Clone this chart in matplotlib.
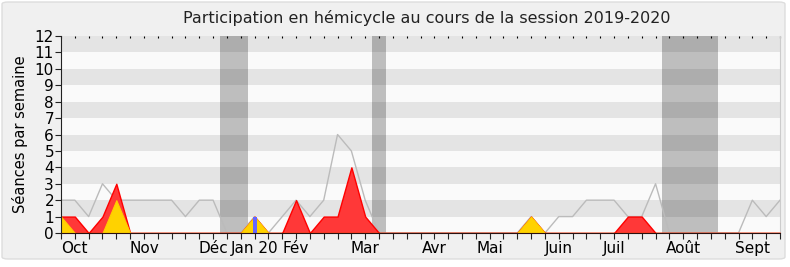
import numpy as np
import matplotlib
matplotlib.use("Agg")
import matplotlib.pyplot as plt
from matplotlib.patches import FancyBboxPatch

# weekly values, session 2019-2020 (53 weeks)
weeks = np.arange(53)
presences = [1, 1, 0, 1, 3, 0, 0, 0, 0, 0, 0, 0, 0, 0, 1, 0, 0, 2, 0, 1, 1, 4, 1, 0,
             0, 0, 0, 0, 0, 0, 0, 0, 0, 0, 1, 0, 0, 0, 0, 0, 0, 1, 1, 0,
             0, 0, 0, 0, 0, 0, 0, 0, 0]
interventions = [1, 0, 0, 0, 2, 0, 0, 0, 0, 0, 0, 0, 0, 0, 1, 0, 0, 0, 0, 0, 0, 0, 0, 0,
                 0, 0, 0, 0, 0, 0, 0, 0, 0, 0, 1, 0, 0, 0, 0, 0, 0, 0, 0, 0,
                 0, 0, 0, 0, 0, 0, 0, 0, 0]
questions_week = [14]
questions = [1]
mediane = [2, 2, 1, 3, 2, 2, 2, 2, 2, 1, 2, 2, 0, 0, 1, 0, 1, 2, 1, 2, 6, 5, 2, 0,
           0, 0, 0, 0, 0, 0, 0, 0, 0, 0, 1, 0, 1, 1, 2, 2, 2, 1, 1, 3,
           0, 0, 0, 0, 0, 0, 2, 1, 2]
vacances = [(11.5, 13.5), (22.5, 23.5), (43.5, 47.5)]
mois_pos = [1, 6, 11, 14, 17, 22, 27, 31, 36, 40, 45, 50]
mois = ['Oct', 'Nov', 'Déc', 'Jan 20', 'Fév', 'Mar', 'Avr', 'Mai', 'Juin', 'Juil', 'Août', 'Sept']

fig = plt.figure(figsize=(7.9, 2.67), dpi=100, facecolor='white')
fig.patches.append(FancyBboxPatch((2 / 790, 8 / 267), 783 / 790, 257 / 267,
                                  boxstyle="round,pad=0,rounding_size=0.008",
                                  transform=fig.transFigure, facecolor='#f0f0f0',
                                  edgecolor='#dddddd', linewidth=1, zorder=-10))
ax = fig.add_axes([61 / 790, 1 - 233 / 267, 719 / 790, 197 / 267])
ax.set_facecolor('#fafafa')

# alternating bands
for y in range(1, 12, 2):
    ax.axhspan(y, y + 1, color='#e4e4e4', lw=0, zorder=0)
for a, b in vacances:
    ax.axvspan(a, b, color='black', alpha=0.24, lw=0, zorder=1)

ax.plot(weeks, mediane, color='#bbbbbb', lw=1, zorder=2)
ax.fill_between(weeks, presences, color='#ff3838', edgecolor='#ff0000', lw=1, zorder=3)
ax.fill_between(weeks, interventions, color='#ffd200', edgecolor='#ffcc00', lw=0.8, zorder=4)
ax.bar(questions_week, questions, width=0.3, color='#6666ff', lw=0, zorder=5)

ax.set_xlim(0, 52)
ax.set_ylim(0, 12)
ax.set_yticks(range(13))
ax.set_xticks(weeks)
labels = [''] * len(weeks)
for p, m in zip(mois_pos, mois):
    labels[p] = m
ax.set_xticklabels(labels)
ax.tick_params(axis='both', labelsize=11, length=4, color='#222222', pad=1)
ax.tick_params(axis='x', pad=2)

top = ax.secondary_xaxis('top')
top.set_xticks(weeks)
top.set_xticklabels([])
top.tick_params(length=1.5, direction='in', color='black')
top.spines['top'].set_visible(False)

ax.spines['top'].set_visible(False)
ax.spines['right'].set_color('#cccccc')
ax.spines['left'].set_color('#222222')
ax.spines['bottom'].set_color('#2a1010')
ax.spines['bottom'].set_zorder(10)
ax.spines['left'].set_zorder(10)

ax.set_ylabel('Séances par semaine', fontsize=10.5, labelpad=5)
fig.text(427 / 790, 1 - 18 / 267, 'Participation en hémicycle au cours de la session 2019-2020',
         fontsize=11.5, ha='center', va='center', color='#222222')

fig.savefig('out.png', dpi=100, facecolor=fig.get_facecolor())
